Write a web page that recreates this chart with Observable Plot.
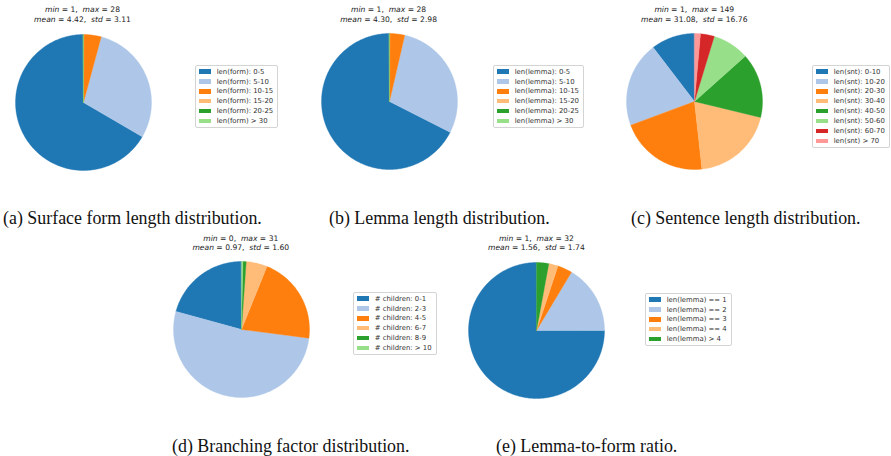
<!DOCTYPE html>
<html>
<head>
<meta charset="utf-8">
<script src="https://cdn.jsdelivr.net/npm/d3@7"></script>
<script src="https://cdn.jsdelivr.net/npm/@observablehq/plot@0.6"></script>
<style>
  html, body { margin: 0; padding: 0; background: #fff; }
  #fig { position: relative; width: 891px; height: 456px; overflow: hidden; background: #fff; }
  .pie { position: absolute; }
  .stats { position: absolute; width: 200px; text-align: center; font-family: "DejaVu Sans", sans-serif;
           font-size: 7.6px; line-height: 9.5px; color: #222; white-space: pre; }
  .stats i { font-style: oblique; }
  .legend { position: absolute; border: 1px solid #d4d4d4; border-radius: 2px; background: rgba(255,255,255,0.9);
            padding: 0.7px 4px 0.7px 3px; font-family: "DejaVu Sans", sans-serif; font-size: 6.9px; color: #333; }
  .legend .row { display: flex; align-items: center; height: 9.9px; white-space: nowrap; }
  .legend .sw { width: 12px; height: 4.3px; margin-right: 5.7px; flex: none; }
  .caption { position: absolute; font-family: "Liberation Serif", "Times New Roman", serif; font-size: 17.9px;
             line-height: 18px; color: #111; white-space: nowrap; }
</style>
</head>
<body>
<div id="fig"></div>
<script>
// Category palette (matplotlib tab20, first eight entries)
const tab20 = ["#1f77b4", "#aec7e8", "#ff7f0e", "#ffbb78", "#2ca02c", "#98df8a", "#d62728", "#ff9896"];

// (a) surface form length, share of tokens (%)
const formLabels = ["len(form): 0-5", "len(form): 5-10", "len(form): 10-15", "len(form): 15-20", "len(form): 20-25", "len(form) > 30"];
const formShares = [66.6, 29.2, 4.1, 0.1, 0.0, 0.0];
const formStats = ["1", "28", "4.42", "3.11"];

// (b) lemma length
const lemmaLabels = ["len(lemma): 0-5", "len(lemma): 5-10", "len(lemma): 10-15", "len(lemma): 15-20", "len(lemma): 20-25", "len(lemma) > 30"];
const lemmaShares = [67.5, 28.9, 3.5, 0.1, 0.0, 0.0];
const lemmaStats = ["1", "28", "4.30", "2.98"];

// (c) sentence length
const sntLabels = ["len(snt): 0-10", "len(snt): 10-20", "len(snt): 20-30", "len(snt): 30-40", "len(snt): 40-50", "len(snt): 50-60", "len(snt): 60-70", "len(snt) > 70"];
const sntShares = [10.4, 20.3, 21.1, 19.5, 15.4, 8.7, 3.3, 1.4];
const sntStats = ["1", "149", "31.08", "16.76"];

// (d) branching factor
const childLabels = ["# children: 0-1", "# children: 2-3", "# children: 4-5", "# children: 6-7", "# children: 8-9", "# children: > 10"];
const childShares = [20.7, 52.2, 20.9, 5.0, 0.8, 0.3];
const childStats = ["0", "31", "0.97", "1.60"];

// (e) lemma-to-form ratio
const ratioLabels = ["len(lemma) == 1", "len(lemma) == 2", "len(lemma) == 3", "len(lemma) == 4", "len(lemma) > 4"];
const ratioShares = [75.0, 16.4, 3.5, 2.2, 2.9];
const ratioStats = ["1", "32", "1.56", "1.74"];

const captions = [
  "(a) Surface form length distribution.",
  "(b) Lemma length distribution.",
  "(c) Sentence length distribution.",
  "(d) Branching factor distribution.",
  "(e) Lemma-to-form ratio."
];

// Layout of the five panels (pixel placement on the page)
const panels = [
  {labels: formLabels,  shares: formShares,  stats: formStats,  caption: captions[0], cx: 82.5,  cy: 101.6, statsY: 5.2,   legX: 195, legY: 65,  capX: 3,   capY: 209},
  {labels: lemmaLabels, shares: lemmaShares, stats: lemmaStats, caption: captions[1], cx: 388.6, cy: 101.3, statsY: 5.2,   legX: 493, legY: 65,  capX: 329, capY: 209},
  {labels: sntLabels,   shares: sntShares,   stats: sntStats,   caption: captions[2], cx: 694.3, cy: 101.3, statsY: 5.2,   legX: 812, legY: 65,  capX: 631, capY: 209},
  {labels: childLabels, shares: childShares, stats: childStats, caption: captions[3], cx: 240.8, cy: 329.0, statsY: 233.5, legX: 353, legY: 292, capX: 172, capY: 436.5},
  {labels: ratioLabels, shares: ratioShares, stats: ratioStats, caption: captions[4], cx: 536.4, cy: 329.5, statsY: 233.5, legX: 645, legY: 293, capX: 496, capY: 436.5}
];

const R = 68;          // pie radius in px
const PAD = 1;
const S = 2 * R + 2 * PAD;

// Wedge outlines: centre + arc sampled every degree, counter-clockwise from 12 o'clock
function wedges(labels, shares) {
  const arcs = d3.pie().sort(null).startAngle(0).endAngle(-2 * Math.PI)(shares);
  const pts = [];
  arcs.forEach((a, i) => {
    const span = a.endAngle - a.startAngle;
    const n = Math.max(2, Math.ceil(Math.abs(span) / (Math.PI / 180)));
    pts.push({label: labels[i], x: 0, y: 0});
    for (let k = 0; k <= n; k++) {
      const t = a.startAngle + span * k / n;
      pts.push({label: labels[i], x: Math.sin(t), y: Math.cos(t)});
    }
  });
  return pts;
}

const fig = document.getElementById("fig");

for (const p of panels) {
  const chart = Plot.plot({
    width: S,
    height: S,
    margin: 0,
    style: {background: "transparent", overflow: "visible"},
    x: {domain: [-1, 1], range: [PAD, S - PAD], axis: null},
    y: {domain: [-1, 1], range: [S - PAD, PAD], axis: null},
    color: {domain: p.labels, range: tab20.slice(0, p.labels.length)},
    marks: [
      Plot.line(wedges(p.labels, p.shares), {
        x: "x", y: "y", z: "label",
        fill: "label", stroke: "label", strokeWidth: 0.35,
        curve: "linear-closed"
      })
    ]
  });
  chart.classList.add("pie");
  chart.style.left = (p.cx - S / 2) + "px";
  chart.style.top = (p.cy - S / 2) + "px";
  fig.appendChild(chart);

  // statistics above the pie
  const st = document.createElement("div");
  st.className = "stats";
  st.style.left = (p.cx - 100) + "px";
  st.style.top = p.statsY + "px";
  const [mn, mx, mean, sd] = p.stats;
  st.innerHTML = `<i>min</i> = ${mn},  <i>max</i> = ${mx}\n<i>mean</i> = ${mean},  <i>std</i> = ${sd}`;
  fig.appendChild(st);

  // legend box, coloured through the pie's own colour scale
  const color = chart.scale("color");
  const leg = document.createElement("div");
  leg.className = "legend";
  leg.style.left = p.legX + "px";
  leg.style.top = p.legY + "px";
  for (const lab of p.labels) {
    const row = document.createElement("div");
    row.className = "row";
    const sw = document.createElement("span");
    sw.className = "sw";
    sw.style.background = color.apply(lab);
    const tx = document.createElement("span");
    tx.textContent = lab;
    row.appendChild(sw);
    row.appendChild(tx);
    leg.appendChild(row);
  }
  fig.appendChild(leg);

  // caption
  const cap = document.createElement("div");
  cap.className = "caption";
  cap.style.left = p.capX + "px";
  cap.style.top = p.capY + "px";
  cap.textContent = p.caption;
  fig.appendChild(cap);
}
</script>
</body>
</html>
